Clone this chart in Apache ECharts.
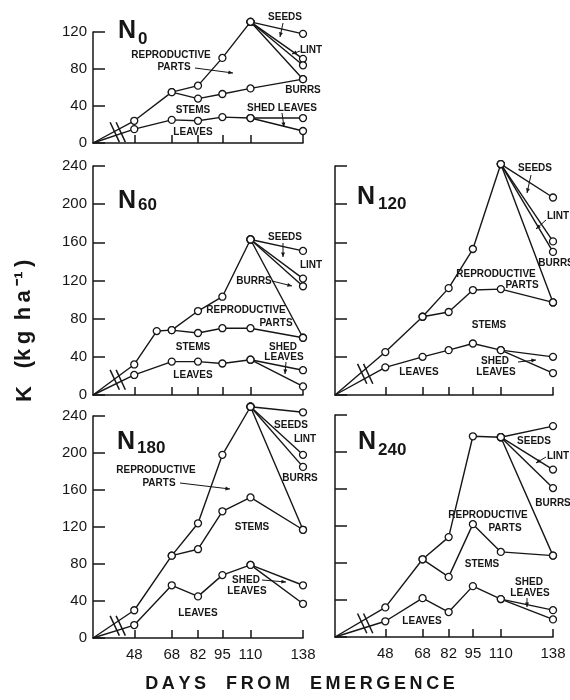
<!DOCTYPE html>
<html>
<head>
<meta charset="utf-8">
<script src="https://cdn.jsdelivr.net/npm/echarts@6/dist/echarts.min.js"></script>
<style>
  html, body { margin: 0; background: #fff; }
  #chart { width: 570px; height: 700px; }
</style>
</head>
<body>
<div id="chart"></div>
<script>
// sampling days and axis ticks
const tickDays = [48, 68, 82, 95, 110, 138]
const sampleDays = [48, 68, 82, 95, 110]
const reproDays = [68, 82, 95, 110]

// K uptake (kg/ha), cumulative: leaves, leaves+stems, +reproductive parts
// end values at day 138: seeds, lint, burrs, stems, shed leaves, leaves
const n0Leaves = [15, 25, 24, 28, 27]
const n0Stems = [24, 55, 48, 53, 59]
const n0Repro = [55, 62, 92, 131]
const n0End = [118, 91, 84, 69, 27, 13]

const n60Leaves = [21, 35, 35, 33, 37]
const n60StemDays = [48, 60, 68, 82, 95, 110]
const n60Stems = [32, 67, 68, 65, 70, 70]
const n60Repro = [68, 88, 103, 163]
const n60End = [151, 122, 114, 60, 26, 9]

const n120Leaves = [29, 40, 47, 54, 47]
const n120Stems = [45, 82, 87, 110, 111]
const n120Repro = [82, 112, 153, 242]
const n120End = [207, 161, 150, 97, 40, 23]

const n180Leaves = [14, 57, 45, 68, 79]
const n180Stems = [30, 89, 96, 137, 152]
const n180Repro = [89, 124, 198, 250]
const n180End = [244, 198, 185, 117, 57, 37]

const n240Leaves = [17, 42, 27, 55, 41]
const n240Stems = [32, 84, 65, 122, 92]
const n240Repro = [84, 108, 217, 216]
const n240End = [228, 181, 161, 88, 29, 19]

const FONT = '"Liberation Sans", Arial, sans-serif'
const INK = '#161616'

const panels = [
  { sub: '0', leaves: n0Leaves, stems: n0Stems, stemDays: sampleDays, repro: n0Repro, end: n0End,
    left: 93, top: 32, width: 210, height: 111, ymax: 120, origin: 26, yLabels: true, xLabels: false },
  { sub: '60', leaves: n60Leaves, stems: n60Stems, stemDays: n60StemDays, repro: n60Repro, end: n60End,
    left: 93, top: 166, width: 210, height: 229, ymax: 240, origin: 26, yLabels: true, xLabels: false },
  { sub: '120', leaves: n120Leaves, stems: n120Stems, stemDays: sampleDays, repro: n120Repro, end: n120End,
    left: 335, top: 166, width: 218, height: 229, ymax: 240, origin: 21, yLabels: false, xLabels: false },
  { sub: '180', leaves: n180Leaves, stems: n180Stems, stemDays: sampleDays, repro: n180Repro, end: n180End,
    left: 93, top: 416, width: 210, height: 222, ymax: 240, origin: 26, yLabels: true, xLabels: true },
  { sub: '240', leaves: n240Leaves, stems: n240Stems, stemDays: sampleDays, repro: n240Repro, end: n240End,
    left: 335, top: 415, width: 218, height: 222, ymax: 240, origin: 21, yLabels: false, xLabels: true }
]

const chart = echarts.init(document.getElementById('chart'))

const lineSeries = (i, data) => ({
  type: 'line',
  xAxisIndex: i,
  yAxisIndex: i,
  data,
  clip: false,
  symbol: 'circle',
  symbolSize: 7,
  showAllSymbol: true,
  silent: true,
  lineStyle: { color: INK, width: 1.4 },
  itemStyle: { color: '#fff', borderColor: INK, borderWidth: 1.3 },
  emphasis: { disabled: true },
  z: 3
})

// the // marks that show the broken day axis
const breakSeries = (i, p) => {
  const f = 0.6
  const bx = p.origin + f * (48 - p.origin)
  const by = f * (p.leaves[0] + p.stems[0]) / 2
  return {
    type: 'custom',
    xAxisIndex: i,
    yAxisIndex: i,
    clip: false,
    silent: true,
    data: [[bx, by]],
    z: 4,
    renderItem: (params, api) => {
      const c = api.coord([api.value(0), api.value(1)])
      const h = 11
      const mk = (o) => ({
        type: 'line',
        shape: { x1: c[0] + o - 0.42 * h, y1: c[1] - 0.9 * h, x2: c[0] + o + 0.42 * h, y2: c[1] + 0.9 * h },
        style: { stroke: INK, lineWidth: 1.5 }
      })
      return { type: 'group', children: [mk(-3), mk(3)] }
    }
  }
}

const series = []
panels.forEach((p, i) => {
  const origin = { value: [p.origin, 0], symbol: 'none' }
  const peak = p.repro[p.repro.length - 1]
  series.push(lineSeries(i, [origin, ...sampleDays.map((d, k) => [d, p.leaves[k]]), [138, p.end[5]]]))
  series.push(lineSeries(i, [[110, p.leaves[4]], [138, p.end[4]]]))
  series.push(lineSeries(i, [origin, ...p.stemDays.map((d, k) => [d, p.stems[k]]), [138, p.end[3]]]))
  series.push(lineSeries(i, [...reproDays.map((d, k) => [d, p.repro[k]]), [138, p.end[3]]]))
  for (let j = 0; j < 3; j++) {
    series.push(lineSeries(i, [[110, peak], [138, p.end[j]]]))
  }
  series.push(breakSeries(i, p))
})

const axisLine = { show: true, lineStyle: { color: INK, width: 1.5 } }

// annotation labels [text, x, y]
const notes = [
  ['SEEDS', 285, 17], ['LINT', 311, 50], ['BURRS', 303, 90], ['REPRODUCTIVE', 171, 55], ['PARTS', 174, 67],
  ['STEMS', 193, 110], ['SHED LEAVES', 282, 108], ['LEAVES', 193, 132],
  ['SEEDS', 285, 237], ['LINT', 311, 265], ['BURRS', 254, 281], ['REPRODUCTIVE', 246, 310], ['PARTS', 276, 323],
  ['STEMS', 193, 347], ['SHED', 283, 347], ['LEAVES', 284, 357], ['LEAVES', 193, 375],
  ['SEEDS', 535, 168], ['LINT', 558, 216], ['BURRS', 556, 263], ['REPRODUCTIVE', 496, 274], ['PARTS', 522, 285],
  ['STEMS', 489, 325], ['SHED', 495, 361], ['LEAVES', 496, 372], ['LEAVES', 419, 372],
  ['SEEDS', 291, 425], ['LINT', 305, 439], ['BURRS', 300, 478], ['REPRODUCTIVE', 156, 470], ['PARTS', 159, 483],
  ['STEMS', 252, 527], ['SHED', 246, 580], ['LEAVES', 247, 591], ['LEAVES', 198, 613],
  ['SEEDS', 534, 441], ['LINT', 558, 456], ['BURRS', 553, 503], ['REPRODUCTIVE', 488, 515], ['PARTS', 505, 528],
  ['STEMS', 482, 564], ['SHED', 529, 582], ['LEAVES', 530, 593], ['LEAVES', 422, 621]
]

// arrows [x1, y1, x2, y2]
const arrows = [
  [283, 23, 280, 37], [300, 51, 292, 54], [195, 68, 233, 73], [282, 113, 284, 127],
  [283, 243, 283, 257], [272, 281, 292, 286], [286, 362, 285, 374],
  [531, 175, 527, 193], [546, 220, 536, 229], [518, 362, 536, 360],
  [180, 483, 230, 489], [262, 580, 286, 582],
  [546, 457, 536, 463], [527, 598, 527, 607]
]

const graphic = []
notes.forEach(([t, x, y]) => {
  graphic.push({
    type: 'text', x, y, silent: true, z: 10,
    style: { text: t, font: 'bold 10px ' + FONT, fill: INK, textAlign: 'center', textVerticalAlign: 'middle' }
  })
})
arrows.forEach(([x1, y1, x2, y2]) => {
  const a = Math.atan2(y2 - y1, x2 - x1)
  const s = 5
  graphic.push({
    type: 'group', silent: true, z: 10,
    children: [
      { type: 'line', shape: { x1, y1, x2, y2 }, style: { stroke: INK, lineWidth: 1 } },
      { type: 'polygon', shape: { points: [
        [x2, y2],
        [x2 - s * Math.cos(a - 0.4), y2 - s * Math.sin(a - 0.4)],
        [x2 - s * Math.cos(a + 0.4), y2 - s * Math.sin(a + 0.4)]
      ] }, style: { fill: INK } }
    ]
  })
})

// panel titles N with subscript: [sub, nLeft, nY, subLeft, subY]
const titles = [['0', 118, 31, 138, 39], ['60', 118, 201, 138, 205], ['120', 357, 197, 378, 204],
  ['180', 117, 442, 137, 448], ['240', 358, 442, 378, 450]]
titles.forEach(([s, nx, ny, sx, sy]) => {
  graphic.push({ type: 'text', x: nx, y: ny, silent: true,
    style: { text: 'N', font: 'bold 25px ' + FONT, fill: INK, textAlign: 'left', textVerticalAlign: 'middle' } })
  graphic.push({ type: 'text', x: sx, y: sy, silent: true,
    style: { text: s, font: 'bold 17px ' + FONT, fill: INK, textAlign: 'left', textVerticalAlign: 'middle' } })
})

// y axis title, reading upward
graphic.push({
  type: 'text', x: 25, y: 394, rotation: Math.PI / 2, silent: true,
  style: { text: 'K', font: 'bold 22px ' + FONT, fill: INK, textAlign: 'center', textVerticalAlign: 'middle' }
})
graphic.push({
  type: 'text', x: 24, y: 314, rotation: Math.PI / 2, silent: true,
  style: { text: '(k\u2009g\u2009 h\u2009a\u2009\u207B\u00B9\u2009)', font: 'bold 22px ' + FONT, fill: INK, textAlign: 'center', textVerticalAlign: 'middle' }
})
graphic.push({
  type: 'text', x: 300, y: 684, silent: true,
  style: { text: 'D\u2009A\u2009Y\u2009S    F\u2009R\u2009O\u2009M    E\u2009M\u2009E\u2009R\u2009G\u2009E\u2009N\u2009C\u2009E',
    font: 'bold 18px ' + FONT, fill: INK, textAlign: 'center', textVerticalAlign: 'middle' }
})

chart.setOption({
  animation: false,
  backgroundColor: '#fff',
  grid: panels.map(p => ({ left: p.left, top: p.top, width: p.width, height: p.height, outerBoundsMode: 'none' })),
  xAxis: panels.map((p, i) => ({
    gridIndex: i,
    type: 'value',
    min: p.origin,
    max: 138,
    axisLine,
    axisTick: { show: true, inside: true, length: 8, customValues: tickDays, lineStyle: { color: INK, width: 1.5 } },
    axisLabel: { show: p.xLabels, customValues: tickDays, fontSize: 15, color: INK, fontFamily: FONT, margin: 9 },
    splitLine: { show: false }
  })),
  yAxis: panels.map((p, i) => ({
    gridIndex: i,
    type: 'value',
    min: 0,
    max: p.ymax,
    interval: 40,
    axisLine,
    axisTick: { show: true, inside: true, length: 12, lineStyle: { color: INK, width: 1.5 } },
    axisLabel: { show: p.yLabels, fontSize: 15, color: INK, fontFamily: FONT, margin: 6 },
    splitLine: { show: false }
  })),
  series,
  graphic
})
</script>
</body>
</html>
